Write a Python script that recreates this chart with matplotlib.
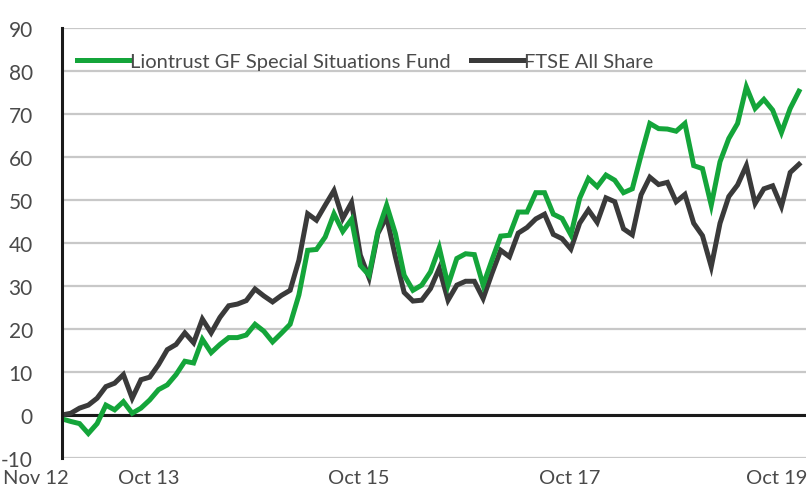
import matplotlib
matplotlib.use("Agg")
import matplotlib.pyplot as plt
import matplotlib.transforms as mtransforms

# Cumulative performance (%), monthly, Nov 12 .. Nov 19
fund = [-0.9, -1.5, -2.0, -4.3, -2.0, 2.3, 1.2, 3.1, 0.4, 1.6,
        3.5, 5.9, 7.0, 9.4, 12.5, 12.1, 17.6, 14.5, 16.4, 18.0,
        18.0, 18.6, 21.1, 19.5, 17.0, 19.0, 21.1, 27.9, 38.3, 38.5,
        41.4, 46.8, 42.7, 45.5, 34.8, 32.5, 42.7, 48.8, 42.2, 32.5,
        29.0, 30.2, 33.3, 38.9, 30.2, 36.4, 37.5, 37.3, 30.2, 36.0,
        41.6, 41.8, 47.2, 47.2, 51.7, 51.7, 46.7, 45.7, 41.9, 50.4,
        55.0, 53.1, 55.8, 54.6, 51.7, 52.6, 60.4, 67.8, 66.6, 66.5,
        66.0, 67.8, 58.0, 57.3, 48.8, 58.9, 64.3, 67.8, 76.3, 71.3,
        73.4, 70.9, 65.7, 71.3, 75.3]

ftse = [0.0, 0.4, 1.6, 2.3, 3.9, 6.6, 7.4, 9.4, 3.9, 8.2,
        8.8, 11.7, 15.2, 16.4, 19.1, 16.8, 22.3, 19.1, 22.7, 25.4,
        25.8, 26.6, 29.3, 27.7, 26.3, 27.8, 29.0, 36.0, 46.8, 45.3,
        48.8, 52.2, 45.7, 49.4, 37.2, 31.9, 42.2, 46.1, 36.8, 28.5,
        26.5, 26.7, 29.4, 34.1, 26.7, 30.2, 31.1, 31.1, 27.1, 32.9,
        38.3, 36.8, 42.3, 43.6, 45.6, 46.7, 42.0, 41.0, 38.6, 44.6,
        47.7, 44.8, 50.5, 49.6, 43.3, 41.9, 51.2, 55.3, 53.6, 54.1,
        49.6, 51.3, 44.6, 41.7, 34.5, 44.6, 50.8, 53.5, 58.0, 49.2,
        52.6, 53.3, 48.5, 56.4, 58.3]

tick_months = [0, 11, 35, 59, 83]
tick_labels = ["Nov 12", "Oct 13", "Oct 15", "Oct 17", "Oct 19"]
y_ticks = list(range(-10, 100, 10))

plt.rcParams['font.family'] = ['Lato', 'DejaVu Sans']
plt.rcParams['axes.unicode_minus'] = False

fig = plt.figure(figsize=(8.07, 4.89), dpi=100)
ax = fig.add_axes([62 / 807, 30 / 489, 744 / 807, 430 / 489])

x = list(range(len(fund)))
ax.plot(x, fund, color='#14a53a', lw=3.6, solid_joinstyle='miter',
        label='Liontrust GF Special Situations Fund', zorder=4)
ax.plot(x, ftse, color='#3a3a3a', lw=3.6, solid_joinstyle='miter',
        label='FTSE All Share', zorder=3)

ax.set_ylim(-10, 90)
ax.set_xlim(0, len(fund) - 1 + 0.8)
ax.set_yticks(y_ticks)
ax.grid(axis='y', color='#c8c8c8', lw=1.6)
ax.set_axisbelow(True)
ax.axhline(0, color='#1a1a1a', lw=2.2, zorder=2)

for s in ['top', 'right', 'bottom']:
    ax.spines[s].set_visible(False)
ax.spines['left'].set_color('#1a1a1a')
ax.spines['left'].set_linewidth(2.2)
ax.spines['left'].set_zorder(5)

ax.set_xticks(tick_months)
ax.set_xticklabels(tick_labels)
ax.tick_params(axis='both', length=0, labelsize=15, labelcolor='#4a4a4a')
ax.tick_params(axis='y', pad=21)
ax.tick_params(axis='x', labelsize=14.5, pad=8)

# shift category labels as in the original layout
shifts = [-26, -10, -10, -10, -14]
for lab, dx in zip(ax.get_xticklabels(), shifts):
    lab.set_transform(lab.get_transform() +
                      mtransforms.ScaledTranslation(dx / 100, 0, fig.dpi_scale_trans))

leg = ax.legend(loc='center left', bbox_to_anchor=(0.02, 0.923), ncol=2,
                frameon=False, fontsize=14.5, handlelength=2.6,
                handletextpad=0.05, columnspacing=1.0, borderpad=0,
                borderaxespad=0)
for t in leg.get_texts():
    t.set_color('#4a4a4a')

fig.savefig('out.png', dpi=100)
